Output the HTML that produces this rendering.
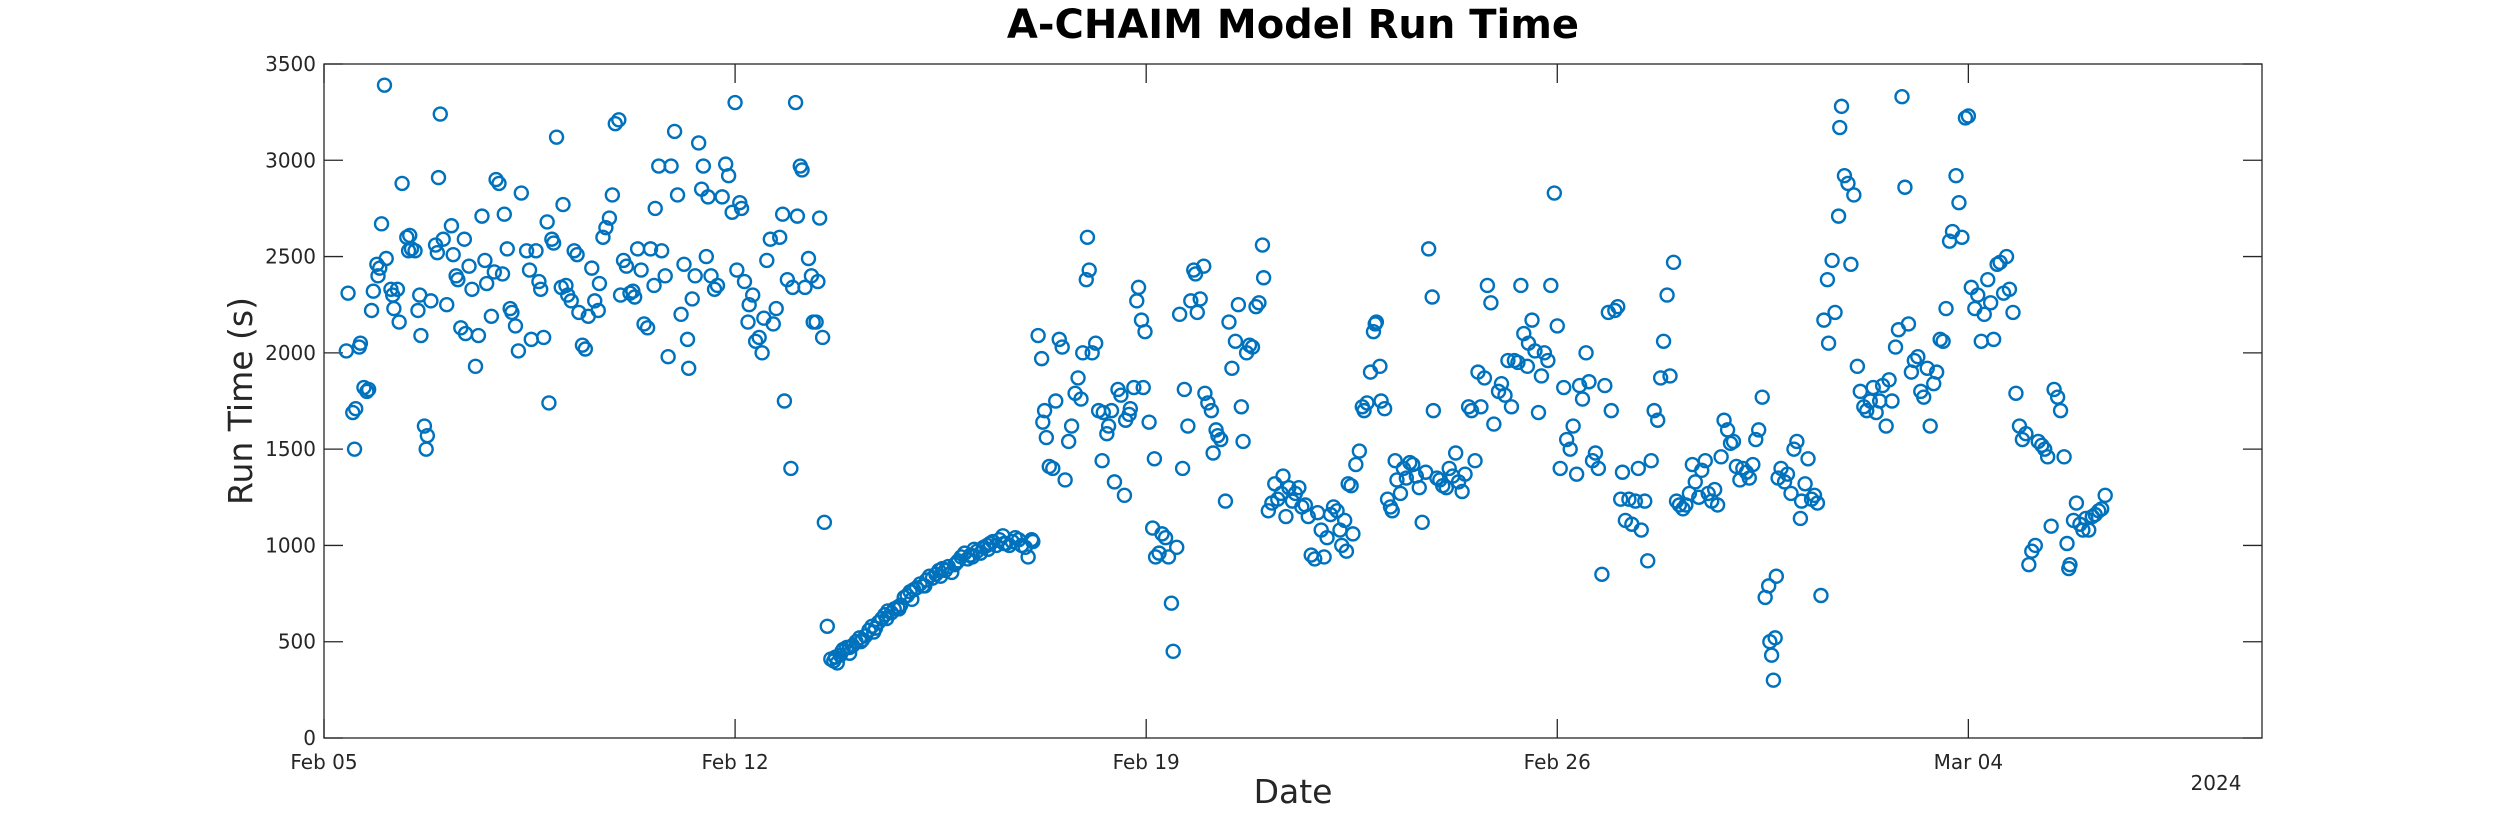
<!DOCTYPE html>
<html><head><meta charset="utf-8"><title>A-CHAIM Model Run Time</title>
<style>
html,body{margin:0;padding:0;background:#fff;}
svg{display:block;font-family:"DejaVu Sans","Liberation Sans",sans-serif;}
</style></head>
<body>
<svg id="chart" width="2500" height="833" viewBox="0 0 2500 833" xmlns="http://www.w3.org/2000/svg">
<rect x="0" y="0" width="2500" height="833" fill="#fff"/>
<text x="1293" y="38" text-anchor="middle" font-size="40" font-weight="bold" fill="#000">A-CHAIM Model Run Time</text>
<rect x="324" y="64" width="1938" height="674" fill="#fff" stroke="#262626" stroke-width="1.3"/>
<g id="axes"></g>
<g id="marks"></g>
<text transform="translate(252,401) rotate(-90)" text-anchor="middle" font-size="33" fill="#262626">Run Time (s)</text>
<text x="1293" y="803" text-anchor="middle" font-size="33" fill="#262626">Date</text>
<text x="2216" y="790" text-anchor="middle" font-size="20" fill="#262626">2024</text>
</svg>
<script>
const xTickDays = [0, 7, 14, 21, 28];
const xTickLabels = ["Feb 05", "Feb 12", "Feb 19", "Feb 26", "Mar 04"];
const yTickValues = [0, 500, 1000, 1500, 2000, 2500, 3000, 3500];
const dayOffsets = [
0.41,0.38,0.49,0.54,0.52,0.60,0.62,0.68,0.73,0.76,0.81,0.84,0.90,0.92,0.95,0.98,1.03,1.06,1.14,1.17,1.19,1.25,1.28,1.33,1.41,1.44,1.46,1.49,1.55,1.60,1.63,1.65,1.71,1.76,1.74,1.82,1.90,1.93,1.98,1.95,2.03,2.09,2.17,2.20,2.25,2.28,2.33,2.39,2.41,2.47,2.52,2.58,2.63,2.69,2.74,2.77,2.85,2.90,2.93,2.98,3.04,3.07,3.12,3.17,3.20,3.26,3.31,
3.36,3.45,3.50,3.53,3.61,3.66,3.69,3.74,3.80,3.83,3.88,3.91,3.96,4.04,4.07,4.12,4.15,4.21,4.26,4.31,4.34,4.40,4.45,4.50,4.56,4.61,4.67,4.69,4.75,4.80,4.86,4.91,4.96,5.02,5.05,5.10,5.15,5.21,5.26,5.29,5.34,5.40,5.45,5.51,5.56,5.62,5.64,5.70,5.75,5.81,5.86,5.91,5.97,6.02,6.08,6.13,6.19,6.21,6.27,6.32,6.38,6.43,6.46,6.51,6.54,6.59,6.65,6.70,6.78,6.84,6.89,6.95,7.00,7.03,7.08,7.11,7.16,7.22,7.24,7.30,7.35,7.41,7.46,7.49,7.54,7.60,7.65,7.70,7.76,7.81,7.84,7.89,7.95,7.98,8.03,8.06,8.11,8.14,8.19,8.25,8.30,8.33,8.38,8.41,8.44,8.49,8.52,8.57,
8.63,8.68,8.74,8.79,8.84,8.90,8.95,9.00,9.06,9.12,9.17,9.22,9.28,9.33,9.39,9.44,9.50,9.55,9.60,9.66,9.71,9.77,9.82,9.88,9.93,9.98,10.04,10.09,10.15,10.20,10.26,10.31,10.36,10.42,10.47,10.53,10.58,10.63,10.69,10.74,10.80,10.85,10.91,10.96,11.01,11.07,11.12,11.18,11.23,11.29,11.34,11.39,11.45,11.50,11.56,11.61,11.67,11.72,11.77,11.83,11.88,11.94,11.99,12.05,12.07,
8.71,8.82,8.95,9.14,9.36,9.58,9.79,10.01,10.23,10.50,10.77,11.04,11.31,11.58,
12.16,12.22,12.24,12.27,12.30,12.35,12.41,12.46,12.52,12.57,12.62,12.68,12.73,12.79,12.84,12.89,12.92,12.98,13.00,13.03,13.08,13.14,13.19,13.25,13.27,13.33,13.36,13.41,13.46,13.52,13.57,13.63,13.65,13.71,13.73,13.79,13.84,13.87,13.92,13.95,13.98,14.05,14.11,14.14,14.16,14.22,14.27,14.33,14.38,14.43,14.46,14.52,14.57,14.62,14.65,14.71,14.76,14.81,14.84,14.87,14.92,14.98,15.00,15.05,15.11,15.14,15.19,15.22,15.27,15.35,15.41,15.46,15.52,15.57,15.62,15.65,15.71,15.76,15.81,15.87,15.92,15.98,16.00,16.08,16.14,16.19,16.24,16.30,16.33,16.38,16.43,16.49,16.54,16.60,16.65,16.71,16.76,16.81,16.87,16.92,16.98,17.03,17.08,17.14,17.19,17.25,17.30,17.33,17.38,17.41,17.44,17.49,17.52,17.57,17.63,17.68,17.71,17.76,17.82,17.87,17.90,17.92,17.98,18.00,18.06,18.11,18.16,18.19,18.24,18.27,18.33,18.38,18.43,18.49,18.54,18.60,18.65,18.70,18.76,18.81,18.87,18.89,18.95,19.00,19.05,19.11,19.16,19.22,19.27,19.32,19.38,19.43,19.49,19.54,19.60,19.65,19.70,19.76,19.81,19.87,19.92,20.00,20.05,20.11,20.16,20.22,20.27,20.33,20.38,20.43,20.49,20.51,20.57,20.62,20.68,20.73,20.78,20.84,20.89,20.95,21.00,21.05,21.11,21.16,21.22,21.27,21.33,21.38,21.43,21.49,21.54,21.60,21.65,21.70,21.76,21.81,21.87,21.92,21.98,22.03,22.08,22.11,22.16,22.22,22.27,22.33,22.38,22.43,22.49,22.54,22.60,22.65,22.71,22.76,22.81,22.87,22.92,22.98,23.03,23.08,23.14,23.19,23.25,23.30,23.35,23.41,23.46,23.52,23.57,23.63,23.68,23.73,23.79,23.84,23.90,23.95,24.00,24.05,24.11,24.16,24.22,24.27,24.33,24.38,24.43,24.49,24.54,24.60,24.62,24.65,24.68,24.71,24.73,24.76,24.81,24.87,24.92,24.98,25.03,25.08,25.14,25.16,25.22,25.27,25.33,25.38,25.43,25.49,25.54,25.60,25.62,25.68,25.73,25.79,25.81,25.84,25.89,25.95,26.00,26.05,26.11,26.16,26.22,26.27,26.33,26.38,26.43,26.49,26.54,26.60,26.65,26.70,26.76,26.81,26.87,26.92,26.98,27.03,27.08,27.14,27.19,27.24,27.30,27.35,27.41,27.46,27.52,27.57,27.62,27.68,27.73,27.79,27.84,27.89,27.95,28.00,28.05,28.11,28.16,28.22,28.27,28.33,28.38,28.43,28.49,28.54,28.60,28.65,28.70,28.76,28.81,28.87,28.92,28.98,29.03,29.08,29.14,29.19,29.25,29.30,29.35,29.41,29.46,29.52,29.57,29.63,29.68,29.71,29.73,29.79,29.84,29.90,29.95,30.00,30.05,30.11,30.16,30.22,30.27,30.33
];
const runTimes = [
2310,2010,1690,1710,1500,2030,2050,1820,1800,1810,2220,2320,2460,2400,2440,2670,3390,2490,2330,2300,2230,2330,2160,2880,2600,2530,2610,2540,2530,2220,2300,2090,1620,1570,1500,2270,2560,2520,3240,2910,2590,2250,2660,2510,2400,2380,2130,2590,2100,2450,2330,1930,2090,2710,2480,2360,2190,2420,2900,2880,2410,2720,2540,2230,2210,2140,2010,
2830,2530,2430,2070,2530,2370,2330,2080,2680,1740,2590,2570,3120,2340,2770,2350,2300,2270,2530,2510,2210,2040,2020,2190,2440,2270,2220,2360,2600,2650,2700,2820,3190,3210,2300,2480,2450,2310,2320,2290,2540,2430,2150,2130,2540,2350,2750,2970,2530,2400,1980,2970,3150,2820,2200,2460,2070,1920,2280,2400,3090,2850,2970,2500,2810,2400,2330,2350,2810,2980,2920,2730,3300,2430,2780,2750,2370,2160,2250,2300,2060,2080,2000,2180,2480,2590,2150,2230,2600,2720,1750,2380,1400,2340,3300,2710,2970,2950,2340,2490,2400,2160,2160,2370,2700,2080,1120,580,
410,400,390,430,460,470,440,480,500,520,510,530,560,580,570,600,620,640,660,650,670,680,690,730,740,760,770,780,800,790,820,840,830,850,870,880,870,890,860,900,920,940,960,930,950,980,970,960,990,1000,1010,1020,1000,1030,1050,1010,1000,1020,1040,1030,1000,990,940,1030,1020,
420,450,470,500,550,620,670,720,790,840,910,940,980,1010,
2090,1970,1640,1700,1560,1410,1400,1750,2070,2030,1340,1540,1620,1790,1870,1760,2000,2380,2600,2430,2000,2050,1700,1440,1690,1580,1620,1700,1330,1810,1780,1260,1650,1680,1710,1820,2270,2340,2170,1820,2110,1640,1090,1450,940,960,1060,1040,940,700,450,990,2200,1400,1810,1620,2270,2430,2410,2210,2280,2450,1790,1740,1700,1480,1600,1570,1550,1230,2160,1920,2060,2250,1720,1540,2000,2040,2030,2240,2260,2560,2390,1180,1220,1320,1240,1270,1360,1150,1300,1230,1270,1300,1200,1210,1150,950,930,1170,1080,940,1040,1160,1200,1180,1080,1000,1130,970,1320,1310,1060,1420,1490,1720,1700,1740,1900,2110,2150,2160,1930,1750,1710,1240,1200,1180,1440,1340,1270,1400,1350,1430,1420,1360,1300,1120,1380,2540,2290,1700,1350,1340,1310,1300,1400,1360,1480,1330,1280,1370,1720,1700,1440,1900,1720,1870,2350,2260,1630,1800,1840,1780,1960,1720,1960,1950,2350,2100,1930,2050,2170,2010,1690,1880,2000,1960,2350,2830,2140,1400,1820,1550,1500,1620,1370,1830,1760,2000,1850,1440,1480,1400,850,1830,2210,1700,2220,2240,1240,1380,1130,1240,1110,1230,1400,1080,1230,920,1440,1700,1650,1870,2060,2300,1880,2470,1230,1210,1190,1210,1270,1420,1330,1250,1390,1440,1270,1230,1290,1210,1460,1650,1600,1530,1540,1410,1340,1400,1380,1350,1420,1550,1600,1770,730,790,500,430,300,520,840,1350,1400,1330,1370,1270,1500,1540,1140,1230,1320,1450,1240,1260,1220,740,2170,2380,2050,2480,2210,2710,3170,3280,2920,2880,2460,2820,1930,1800,1720,1700,1750,1820,1690,1750,1830,1620,1860,1750,2030,2120,3330,2860,2150,1900,1960,1980,1800,1770,1920,1620,1840,1900,2070,2060,2230,2580,2630,2920,2780,2600,3220,3230,2340,2230,2300,2060,2200,2380,2260,2070,2460,2470,2310,2500,2330,2210,1790,1620,1550,1580,900,970,1000,1540,1520,1500,1460,1100,1810,1770,1700,1460,1010,880,900,1130,1220,1110,1080,1140,1080,1150,1160,1180,1190,1260
];

const PL = 324, PR = 2262, PT = 64, PB = 738;
const X_MIN = 0, X_MAX = 33, Y_MIN = 0, Y_MAX = 3500;
function xScale(d){ return PL + (d - X_MIN) / (X_MAX - X_MIN) * (PR - PL); }
function yScale(v){ return PB - (v - Y_MIN) / (Y_MAX - Y_MIN) * (PB - PT); }
const NS = "http://www.w3.org/2000/svg";
const axes = document.getElementById('axes');
const marks = document.getElementById('marks');
function mk(tag, attrs){ const e = document.createElementNS(NS, tag); for (const k in attrs) e.setAttribute(k, attrs[k]); return e; }

xTickDays.forEach((d, i) => {
  const x = xScale(d);
  const t1 = mk('line', {x1:x, x2:x, y1:PB, y2:PB-19, stroke:'#262626', 'stroke-width':1.3});
  
  
  axes.appendChild(t1);
  const t2 = mk('line', {x1:x, x2:x, y1:PT, y2:PT+19, stroke:'#262626', 'stroke-width':1.3});
  
  
  axes.appendChild(t2);
  const lb = mk('text', {x:x, y:PB+31, 'text-anchor':'middle', 'font-size':20, fill:'#262626'});
  lb.textContent = xTickLabels[i];
  
  
  axes.appendChild(lb);
});
yTickValues.forEach(v => {
  const y = yScale(v);
  const t1 = mk('line', {x1:PL, x2:PL+19, y1:y, y2:y, stroke:'#262626', 'stroke-width':1.3});
  
  
  axes.appendChild(t1);
  const t2 = mk('line', {x1:PR, x2:PR-19, y1:y, y2:y, stroke:'#262626', 'stroke-width':1.3});
  
  
  axes.appendChild(t2);
  const lb = mk('text', {x:PL-8, y:y+7, 'text-anchor':'end', 'font-size':20, fill:'#262626'});
  lb.textContent = String(v);
  
  
  axes.appendChild(lb);
});
const n = Math.min(dayOffsets.length, runTimes.length);
for (let i = 0; i < n; i++) {
  const c = mk('circle', {cx:xScale(dayOffsets[i]), cy:yScale(runTimes[i]), r:6.5, fill:'none', stroke:'#0072BD', 'stroke-width':2.4});
  
  
  marks.appendChild(c);
}
</script>
</body></html>
